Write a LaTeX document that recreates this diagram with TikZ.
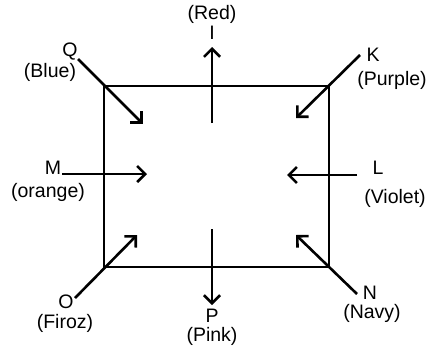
\documentclass[tikz,border=0pt]{standalone}
\usepackage{fontspec}
\setmainfont{Liberation Sans}
\usetikzlibrary{arrows.meta}

\tikzset{
    colarrow/.style={-{Straight Barb[length=8pt,width=16pt]}, line width=2.6pt},
    lbl/.style={inner sep=0pt, font=\fontsize{19.5}{20}\selectfont}
}

\begin{document}
\begin{tikzpicture}[x=1pt, y=-1pt]
    \useasboundingbox (0,0) rectangle (430,351);

    % Box
    \coordinate (tl) at (104,86);
    \coordinate (br) at (329,267);
    \draw[line width=2pt] (tl) rectangle (br);

    % Top and bottom
    \node[lbl] (red) at (212,14) {(Red)};
    \node[lbl] (i) at (212,33) {I};
    \coordinate (ifrom) at (212,123);
    \coordinate (ito) at (212,47);
    \draw[colarrow] (ifrom) -- (ito);

    \node[lbl] (p) at (212,316) {P};
    \node[lbl] (pink) at (212,336) {(Pink)};
    \coordinate (pfrom) at (212,229);
    \coordinate (pto) at (212,305);
    \draw[colarrow] (pfrom) -- (pto);

    % Corners
    \node[lbl] (q) at (70,52) {Q};
    \node[lbl] (blue) at (50,72) {(Blue)};
    \coordinate (qfrom) at (78,59);
    \coordinate (qto) at (143,124);
    \draw[colarrow] (qfrom) -- (qto);

    \node[lbl] (k) at (373,55) {K};
    \node[lbl] (purple) at (392,80) {(Purple)};
    \coordinate (kfrom) at (360,55);
    \coordinate (kto) at (296,118);
    \draw[colarrow] (kfrom) -- (kto);

    \node[lbl] (o) at (66,302) {O};
    \node[lbl] (firoz) at (65,323) {(Firoz)};
    \coordinate (ofrom) at (75,298);
    \coordinate (oto) at (137,235);
    \draw[colarrow] (ofrom) -- (oto);

    \node[lbl] (n) at (370,293) {N};
    \node[lbl] (navy) at (372,313) {(Navy)};
    \coordinate (nfrom) at (357,294);
    \coordinate (nto) at (296,235);
    \draw[colarrow] (nfrom) -- (nto);

    % Sides
    \node[lbl] (m) at (53,168) {M};
    \node[lbl] (orange) at (48,192) {(orange)};
    \coordinate (mfrom) at (62,174);
    \coordinate (mto) at (147,174);
    \draw[colarrow] (mfrom) -- (mto);

    \node[lbl] (l) at (378,168) {L};
    \node[lbl] (violet) at (395,198) {(Violet)};
    \coordinate (lfrom) at (357,175);
    \coordinate (lto) at (287,175);
    \draw[colarrow] (lfrom) -- (lto);
\end{tikzpicture}
\end{document}
